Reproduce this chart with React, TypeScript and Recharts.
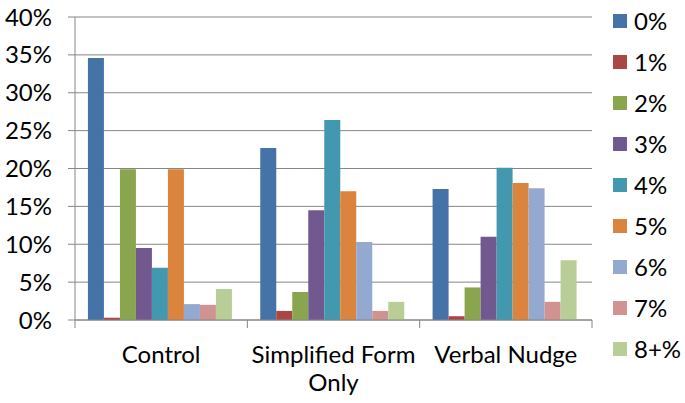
import React from "react";
import { BarChart, Bar, XAxis, YAxis, CartesianGrid, Legend } from "recharts";

const categories = ["Control", "Simplified Form Only", "Verbal Nudge"];
const categoryLines = [["Control"], ["Simplified Form", "Only"], ["Verbal Nudge"]];
const seriesNames = ["0%", "1%", "2%", "3%", "4%", "5%", "6%", "7%", "8+%"];
const seriesColors = ["#4572A7", "#AA4643", "#89A54E", "#71588F", "#4198AF", "#DB843D", "#93A9CF", "#D19392", "#B9CD96"];

const s0 = [34.6, 22.7, 17.3];
const s1 = [0.3, 1.2, 0.5];
const s2 = [19.9, 3.7, 4.3];
const s3 = [9.5, 14.5, 11.0];
const s4 = [6.9, 26.4, 20.1];
const s5 = [19.9, 17.0, 18.1];
const s6 = [2.1, 10.3, 17.4];
const s7 = [2.0, 1.2, 2.4];
const s8 = [4.1, 2.4, 7.9];
const seriesValues = [s0, s1, s2, s3, s4, s5, s6, s7, s8];

const yTicks = [0, 5, 10, 15, 20, 25, 30, 35, 40];

const data = categories.map((c, i) => {
  const row: any = { name: c };
  seriesValues.forEach((s, j) => {
    row["s" + j] = s[i];
  });
  return row;
});

const FONT = "Lato, 'Open Sans', sans-serif";
const GRID = "#868686";

const CategoryTick = (props: any) => {
  const { x, y, payload, index, visibleTicksCount } = props;
  const off = payload.offset || 0;
  const idx = categories.indexOf(payload.value);
  const lines = idx >= 0 ? categoryLines[idx] : [String(payload.value)];
  return (
    <g>
      <line x1={x - off} x2={x - off} y1={y} y2={y + 8} stroke={GRID} strokeWidth={1} />
      {index === visibleTicksCount - 1 && (
        <line x1={x + off} x2={x + off} y1={y} y2={y + 8} stroke={GRID} strokeWidth={1} />
      )}
      <text
        x={x}
        y={y + 43}
        textAnchor="middle"
        fill="#000"
        style={{ fontFamily: FONT, fontSize: 24 }}
      >
        {lines.map((l, k) => (
          <tspan key={k} x={x} dy={k === 0 ? 0 : 28}>
            {l}
          </tspan>
        ))}
      </text>
    </g>
  );
};

const renderLegend = (props: any) => {
  const payload = props.payload || [];
  return (
    <div style={{ fontFamily: FONT, fontSize: 24, color: "#000" }}>
      {payload.map((p: any, i: number) => (
        <div key={i} style={{ height: 41, display: "flex", alignItems: "center" }}>
          <div style={{ width: 14, height: 14, background: p.color, marginRight: 7 }} />
          <span>{p.value}</span>
        </div>
      ))}
    </div>
  );
};

export default function App() {
  return (
    <div style={{ position: "absolute", left: 0, top: 0, width: 685, height: 403, background: "#fff" }}>
      <BarChart
        width={685}
        height={403}
        data={data}
        margin={{ top: 17, right: 21, bottom: 0, left: 0 }}
        barCategoryGap="7.5%"
        barGap={0}
      >
        <CartesianGrid vertical={false} stroke={GRID} strokeWidth={1} />
        <XAxis
          dataKey="name"
          height={83}
          axisLine={{ stroke: GRID }}
          tickLine={false}
          tickSize={0}
          tickMargin={0}
          interval={0}
          tick={<CategoryTick />}
        />
        <YAxis
          width={75}
          domain={[0, 40]}
          ticks={yTicks}
          interval={0}
          axisLine={{ stroke: GRID }}
          tickLine={{ stroke: GRID }}
          tickSize={7}
          tickMargin={16}
          tickFormatter={(v: number) => v + "%"}
          tick={{ fill: "#000", fontFamily: FONT, fontSize: 24 }}
        />
        <Legend
          layout="vertical"
          align="right"
          verticalAlign="top"
          content={renderLegend}
          wrapperStyle={{ position: "absolute", left: 613, top: 0, width: 72 }}
        />
        {seriesNames.map((n, j) => (
          <Bar key={n} dataKey={"s" + j} name={n} fill={seriesColors[j]} isAnimationActive={false} />
        ))}
      </BarChart>
    </div>
  );
}
